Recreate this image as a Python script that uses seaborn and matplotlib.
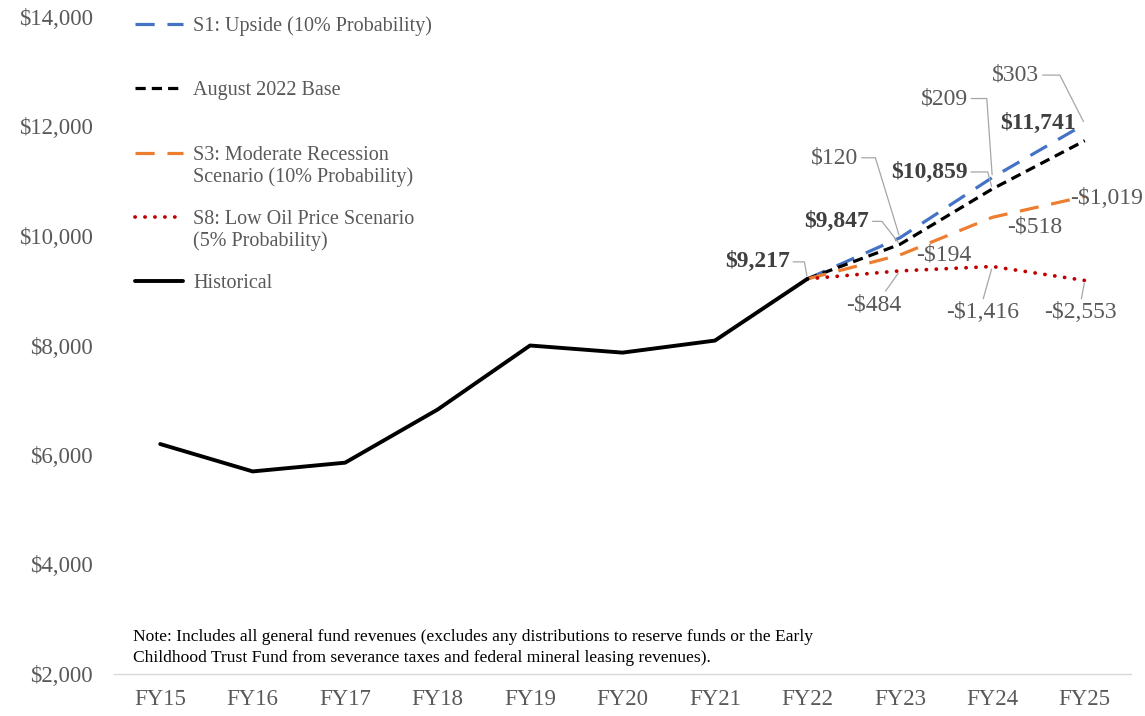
import numpy as np
import pandas as pd
import matplotlib
matplotlib.use("Agg")
import matplotlib.pyplot as plt
import seaborn as sns

# ---------------- data ----------------
years = ["FY15", "FY16", "FY17", "FY18", "FY19", "FY20", "FY21", "FY22", "FY23", "FY24", "FY25"]
hist_years = ["FY15", "FY16", "FY17", "FY18", "FY19", "FY20", "FY21", "FY22"]
hist_vals = [6200, 5700, 5860, 6830, 8000, 7870, 8090, 9217]
fc_years = ["FY22", "FY23", "FY24", "FY25"]
base_vals = [9217, 9847, 10859, 11741]
s1_vals = [9217, 9967, 11068, 12044]
s3_vals = [9217, 9653, 10341, 10722]
s8_vals = [9217, 9363, 9443, 9188]
yticks = [2000, 4000, 6000, 8000, 10000, 12000, 14000]
note = ("Note: Includes all general fund revenues (excludes any distributions to reserve funds or the Early\n"
        "Childhood Trust Fund from severance taxes and federal mineral leasing revenues).")

# ---------------- style ----------------
sns.set_theme(style="white")
plt.rcParams["font.family"] = ["Liberation Serif", "DejaVu Serif"]

W, H = 1145, 716
fig = plt.figure(figsize=(W / 100, H / 100), dpi=100)
ax = fig.add_axes([114 / W, 1 - 674 / H, (1131 - 114) / W, (674 - 17) / H])

pos = {y: i for i, y in enumerate(years)}
hx = [pos[y] for y in hist_years]
fx = [pos[y] for y in fc_years]

BLUE, ORANGE, RED = "#4472C4", "#ED7D31", "#C00000"
LW = 2.3

sns.lineplot(x=fx, y=s1_vals, ax=ax, color=BLUE, lw=LW, linestyle=(0, (6, 4)),
             label="S1: Upside (10% Probability)")
sns.lineplot(x=fx, y=base_vals, ax=ax, color="black", lw=LW, linestyle=(0, (3.2, 1.9)),
             label="August 2022 Base")
sns.lineplot(x=fx, y=s3_vals, ax=ax, color=ORANGE, lw=LW, linestyle=(0, (6, 4)),
             label="S3: Moderate Recession")
sns.lineplot(x=fx, y=s8_vals, ax=ax, color=RED, lw=LW + 0.4, linestyle=(0, (0.05, 2.6)),
             dash_capstyle="round", label="S8: Low Oil Price Scenario")
sns.lineplot(x=hx, y=hist_vals, ax=ax, color="black", lw=LW + 0.5, label="Historical")
for l in ax.lines:
    l.set_solid_capstyle("round")

ax.set_xlim(-0.5, 10.5)
ax.set_ylim(2000, 14000)
ax.set_xticks(range(len(years)))
ax.set_xticklabels(years)
ax.set_yticks(yticks)
ax.set_yticklabels([f"${v:,.0f}" for v in yticks])
ax.tick_params(axis="both", length=0, labelsize=16.5, colors="#595959")
ax.tick_params(axis="y", pad=15)
ax.tick_params(axis="x", pad=11)
ax.set_xlabel("")
ax.set_ylabel("")
for s in ["left", "right", "top"]:
    ax.spines[s].set_visible(False)
ax.spines["bottom"].set_color("#d9d9d9")
ax.spines["bottom"].set_linewidth(1.0)

# ---------------- legend ----------------
leg = ax.legend(loc="upper left", bbox_to_anchor=(135 / W, 1 - 16 / H), bbox_transform=fig.transFigure,
                frameon=False, fontsize=14.5, handlelength=2.4, handletextpad=0.5,
                labelspacing=2.25, borderpad=0, borderaxespad=0)
for t in leg.get_texts():
    t.set_color("#595959")
leg.set_zorder(5)

fig.canvas.draw()
texts = leg.get_texts()
for t, extra in [(texts[2], "Scenario (10% Probability)"), (texts[3], "(5% Probability)")]:
    ax.annotate(extra, xy=(0, 0), xycoords=t, xytext=(0, -2), textcoords="offset points",
                ha="left", va="top", fontsize=14.5, color="#595959", zorder=10,
                annotation_clip=False)

# ---------------- data labels ----------------
GRAY_LINE = "#a6a6a6"


def label(xv, yv, text, dx, dy, bold=False, conn=None, relpos=(1, 0.5)):
    kw = dict(xy=(xv, yv), xytext=(dx * 0.72, -dy * 0.72), textcoords="offset points",
              ha="center", va="center", fontsize=17,
              fontweight="bold" if bold else "normal",
              color="#404040" if bold else "#595959", annotation_clip=False, zorder=6)
    if conn is not None:
        kw["arrowprops"] = dict(arrowstyle="-", color=GRAY_LINE, lw=0.9, shrinkA=0, shrinkB=2,
                                relpos=relpos, connectionstyle=conn)
    ax.annotate(text, **kw)


def money(v):
    return f"${v:,.0f}" if v >= 0 else f"-${-v:,.0f}"


# base values (bold)
base_off = {1: (-63, -23, "angle,angleA=0,angleB=128,rad=0"),
            2: (-63, -17, "angle,angleA=0,angleB=105,rad=0"),
            3: (-47, -17, None)}
label(fx[0], base_vals[0], money(base_vals[0]), -50, -17, True, "angle,angleA=0,angleB=100,rad=0")
for i, (dx, dy, c) in base_off.items():
    label(fx[i], base_vals[i], money(base_vals[i]), dx, dy, True, c)

# S1 differences
s1_off = {1: (-65, -80, "angle,angleA=0,angleB=107,rad=0"),
          2: (-48, -79, "angle,angleA=0,angleB=94,rad=0"),
          3: (-69, -49, "angle,angleA=0,angleB=117,rad=0")}
for i, (dx, dy, c) in s1_off.items():
    label(fx[i], s1_vals[i], money(s1_vals[i] - base_vals[i]), dx, dy, False, c)

# S3 differences
s3_off = {1: (44, 0), 2: (42, 10), 3: (22, 2)}
for i, (dx, dy) in s3_off.items():
    label(fx[i], s3_vals[i], money(s3_vals[i] - base_vals[i]), dx, dy, False, None)

# S8 differences
s8_off = {1: (-26, 34, (0.67, 1)), 2: (-10, 46, (0.5, 1)), 3: (-4, 32, (0.5, 1))}
for i, (dx, dy, rp) in s8_off.items():
    label(fx[i], s8_vals[i], money(s8_vals[i] - base_vals[i]), dx, dy, False,
          "arc3,rad=0", rp)

# ---------------- note ----------------
fig.text(133 / W, 1 - 629 / H, note, ha="left", va="top", fontsize=12.6, color="#000000",
         linespacing=1.45)

fig.savefig("out.png", dpi=100)
